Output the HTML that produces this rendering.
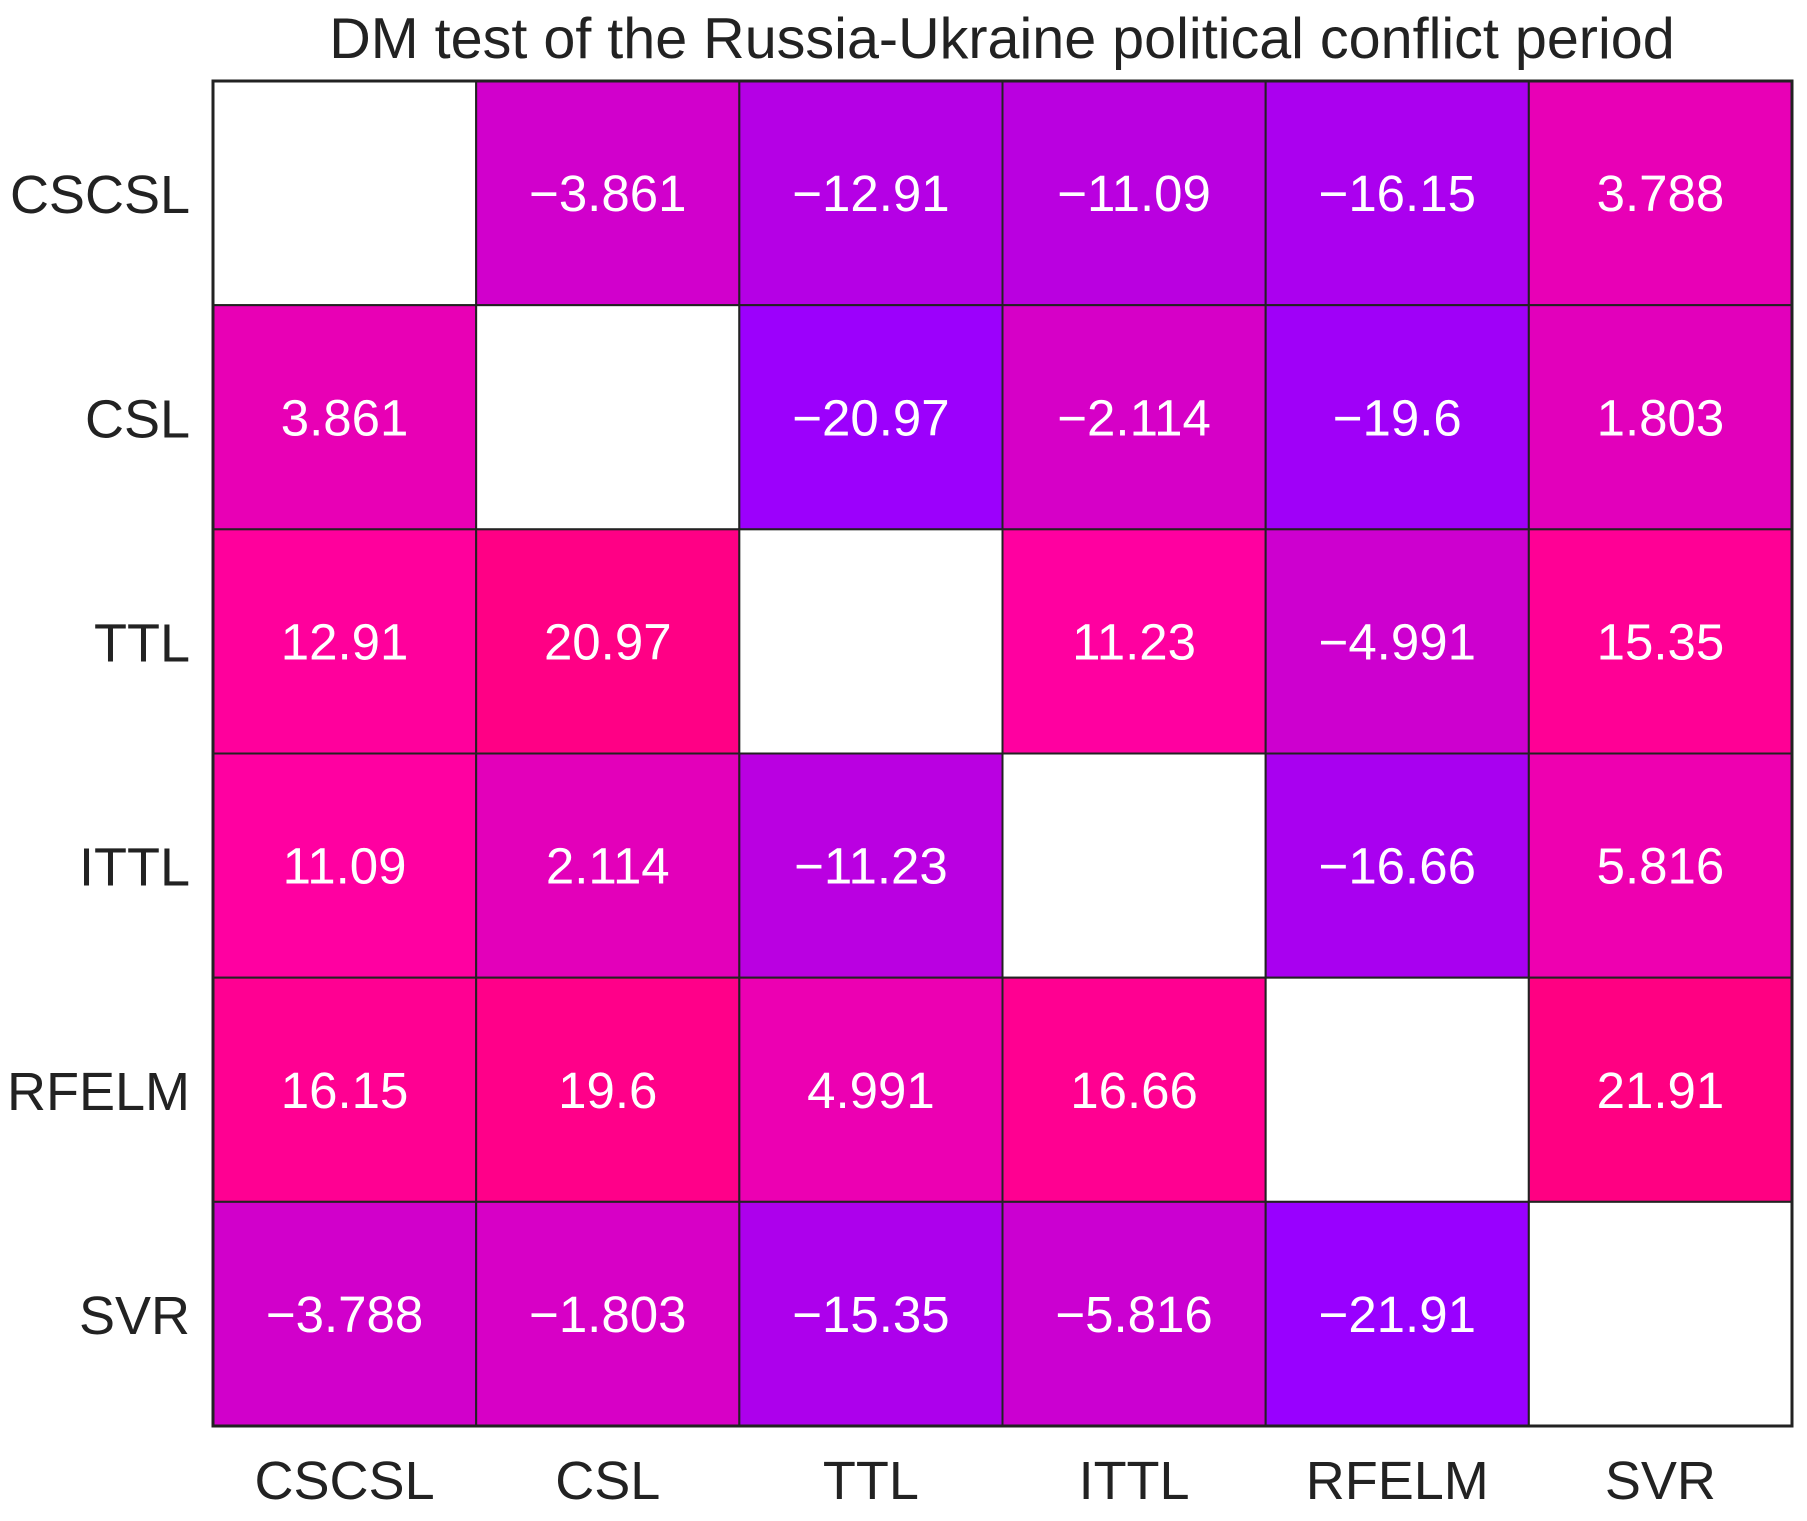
<!DOCTYPE html>
<html><head><meta charset="utf-8"><style>
body{margin:0;background:#fff;}
svg{display:block;font-family:"Liberation Sans",Arial,sans-serif;}
</style></head><body>
<svg id="chart" width="1807" height="1521" viewBox="0 0 1807 1521" xmlns="http://www.w3.org/2000/svg">
<text x="1002" y="58" text-anchor="middle" font-size="57.5" fill="#222">DM test of the Russia-Ukraine political conflict period</text>
<g id="cells"></g>
<g id="labels"></g>
</svg>
<script>
const rowLabels = ["CSCSL","CSL","TTL","ITTL","RFELM","SVR"];
const colLabels = ["CSCSL","CSL","TTL","ITTL","RFELM","SVR"];
const row0 = [null,-3.861,-12.91,-11.09,-16.15,3.788];
const row1 = [3.861,null,-20.97,-2.114,-19.6,1.803];
const row2 = [12.91,20.97,null,11.23,-4.991,15.35];
const row3 = [11.09,2.114,-11.23,null,-16.66,5.816];
const row4 = [16.15,19.6,4.991,16.66,null,21.91];
const row5 = [-3.788,-1.803,-15.35,-5.816,-21.91,null];
const values = [row0,row1,row2,row3,row4,row5];
const vmin = -21.91, vmax = 21.91;

const NS = "http://www.w3.org/2000/svg";
const X0 = 213, X1 = 1792, Y0 = 81, Y1 = 1426;
const cw = (X1 - X0) / colLabels.length, ch = (Y1 - Y0) / rowLabels.length;
const xPos = i => X0 + i * cw;
const yPos = j => Y0 + j * ch;
function color(v){
  const t = (v - vmin) / (vmax - vmin);
  const r = Math.min(255, Math.round(153 + 135 * t));
  const b = Math.round(255 - 125 * t);
  return `rgb(${r},0,${b})`;
}
function fmt(v){ return (v < 0 ? "\u2212" : "") + Math.abs(v).toString(); }
const cells = document.getElementById("cells");
const labels = document.getElementById("labels");
values.forEach((row, j) => {
  row.forEach((v, i) => {
    const r = document.createElementNS(NS, "rect");
    
    
    r.setAttribute("x", xPos(i)); r.setAttribute("y", yPos(j));
    r.setAttribute("width", cw); r.setAttribute("height", ch);
    r.setAttribute("fill", v === null ? "#fff" : color(v));
    r.setAttribute("stroke", "#222"); r.setAttribute("stroke-width", "2");
    cells.appendChild(r);
    if (v !== null) {
      const t = document.createElementNS(NS, "text");
      
      
      t.setAttribute("x", xPos(i) + cw / 2); t.setAttribute("y", yPos(j) + ch / 2 + 18);
      t.setAttribute("text-anchor", "middle"); t.setAttribute("font-size", "51"); t.setAttribute("fill", "#fff");
      t.textContent = fmt(v);
      labels.appendChild(t);
    }
  });
});
const border = document.createElementNS(NS, "rect");


border.setAttribute("x", X0); border.setAttribute("y", Y0);
border.setAttribute("width", X1 - X0); border.setAttribute("height", Y1 - Y0);
border.setAttribute("fill", "none"); border.setAttribute("stroke", "#222"); border.setAttribute("stroke-width", "3");
cells.appendChild(border);
rowLabels.forEach((s, j) => {
  const t = document.createElementNS(NS, "text");
  
  
  t.setAttribute("x", 190); t.setAttribute("y", yPos(j) + ch / 2 + 20);
  t.setAttribute("text-anchor", "end"); t.setAttribute("font-size", "54"); t.setAttribute("fill", "#222");
  t.textContent = s;
  labels.appendChild(t);
});
colLabels.forEach((s, i) => {
  const t = document.createElementNS(NS, "text");
  
  
  t.setAttribute("x", xPos(i) + cw / 2); t.setAttribute("y", 1499);
  t.setAttribute("text-anchor", "middle"); t.setAttribute("font-size", "54"); t.setAttribute("fill", "#222");
  t.textContent = s;
  labels.appendChild(t);
});
</script>
</body></html>
